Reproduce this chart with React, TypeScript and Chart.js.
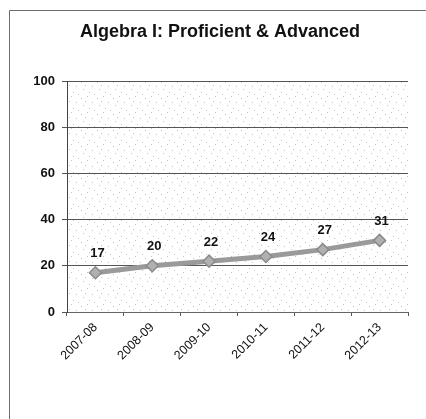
import React, { useEffect, useRef } from "react";
import { Chart, registerables } from "chart.js";

Chart.register(...registerables);

const categories = ["2007-08", "2008-09", "2009-10", "2010-11", "2011-12", "2012-13"];
const values = [17, 20, 22, 24, 27, 31];
const yTicks = [0, 20, 40, 60, 80, 100];
const title = "Algebra I: Proficient & Advanced";

function makePattern(ctx: CanvasRenderingContext2D) {
  const c = document.createElement("canvas");
  c.width = 16;
  c.height = 16;
  const p = c.getContext("2d")!;
  p.fillStyle = "#c4c4c4";
  const dots = [[1, 2], [7, 0], [12, 6], [3, 9], [9, 12], [14, 14], [5, 5]];
  dots.forEach(([x, y]) => p.fillRect(x, y, 1, 1));
  return ctx.createPattern(c, "repeat");
}

const decorPlugin = {
  id: "decor",
  beforeDraw(chart: any) {
    const { ctx, chartArea } = chart;
    ctx.save();
    ctx.fillStyle = "#ffffff";
    ctx.fillRect(0, 0, chart.width, chart.height);
    const pat = makePattern(ctx);
    if (pat) {
      ctx.fillStyle = pat;
      ctx.fillRect(chartArea.left, chartArea.top, chartArea.right - chartArea.left, chartArea.bottom - chartArea.top);
    }
    ctx.strokeStyle = "#6e6e6e";
    ctx.lineWidth = 1;
    ctx.beginPath();
    ctx.moveTo(9.5, chart.height);
    ctx.lineTo(9.5, 10.5);
    ctx.lineTo(chart.width, 10.5);
    ctx.stroke();
    ctx.fillStyle = "#111";
    ctx.font = "bold 18px 'Liberation Sans', Arial, sans-serif";
    ctx.textAlign = "center";
    ctx.textBaseline = "middle";
    ctx.fillText(title, 220, 32);
    ctx.restore();
  },
  afterDatasetsDraw(chart: any) {
    const { ctx } = chart;
    const meta = chart.getDatasetMeta(0);
    ctx.save();
    ctx.fillStyle = "#111";
    ctx.font = "bold 13px 'Liberation Sans', Arial, sans-serif";
    ctx.textAlign = "center";
    ctx.textBaseline = "middle";
    meta.data.forEach((pt: any, i: number) => {
      ctx.fillText(String(values[i]), pt.x + 2, pt.y - 19);
    });
    ctx.restore();
  },
};

export default function App() {
  const ref = useRef<HTMLCanvasElement>(null);
  useEffect(() => {
    const chart = new Chart(ref.current!, {
      type: "line",
      data: {
        labels: categories,
        datasets: [
          {
            data: values,
            borderColor: "#9a9a9a",
            borderWidth: 5,
            pointStyle: "rectRot",
            pointRadius: 6,
            pointBackgroundColor: "#b0b0b0",
            pointBorderColor: "#8a8a8a",
            pointBorderWidth: 1.5,
            tension: 0,
          },
          {
            data: values,
            borderColor: "#d6d6d6",
            borderWidth: 1.5,
            pointRadius: 0,
            tension: 0,
          },
        ],
      },
      plugins: [decorPlugin],
      options: {
        animation: false,
        responsive: false,
        layout: { padding: { top: 81, right: 18, left: 0, bottom: 0 } },
        plugins: { legend: { display: false }, tooltip: { enabled: false }, title: { display: false } },
        scales: {
          x: {
            offset: true,
            grid: { drawOnChartArea: false, drawTicks: true, tickLength: 4, offset: true, color: "#555" },
            border: { color: "#666", width: 1 },
            ticks: {
              maxRotation: 45,
              minRotation: 45,
              color: "#111",
              padding: 4,
              font: { size: 12.5, family: "'Liberation Sans', Arial, sans-serif" },
            },
            afterFit: (s: any) => {
              s.height = 107;
            },
          },
          y: {
            min: 0,
            max: 100,
            afterBuildTicks: (s: any) => {
              s.ticks = yTicks.map((v) => ({ value: v }));
            },
            grid: { color: "#555", tickLength: 5, lineWidth: 1 },
            border: { color: "#444", width: 1 },
            ticks: {
              color: "#111",
              padding: 7,
              font: { size: 13, weight: "bold", family: "'Liberation Sans', Arial, sans-serif" },
            },
            afterFit: (s: any) => {
              s.width = 67;
            },
          },
        },
      },
    });
    return () => chart.destroy();
  }, []);
  return (
    <div style={{ position: "fixed", left: 0, top: 0, width: 426, height: 419 }}>
      <canvas ref={ref} width={426} height={419} style={{ width: 426, height: 419 }} />
    </div>
  );
}
